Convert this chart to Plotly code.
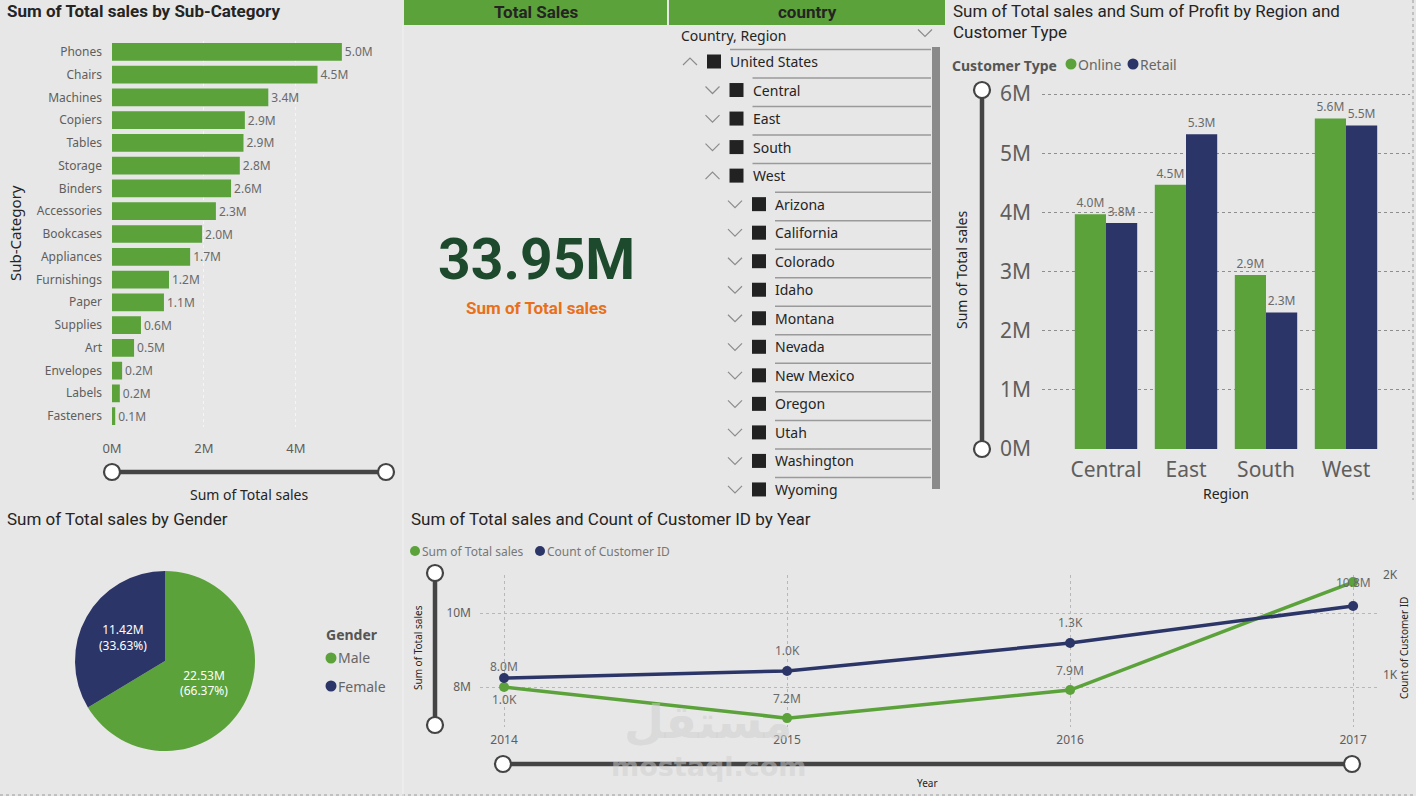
import plotly.graph_objects as go

W, H = 1416, 796
BG = "#E7E7E7"
GREEN = "#5BA23A"
NAVY = "#2C3567"
DARK = "#252423"
GREY = "#605E5C"
LBL = "#6A6A6A"
TFONT = "Roboto"
BFONT = "Noto Sans"

# ---------------- data ----------------
subcategories = ["Phones", "Chairs", "Machines", "Copiers", "Tables", "Storage", "Binders",
                 "Accessories", "Bookcases", "Appliances", "Furnishings", "Paper", "Supplies",
                 "Art", "Envelopes", "Labels", "Fasteners"]
subcat_sales_m = [5.00, 4.47, 3.40, 2.89, 2.86, 2.78, 2.59, 2.26, 1.96, 1.70, 1.24, 1.13,
                  0.63, 0.48, 0.22, 0.17, 0.07]
subcat_ticks_m = [0, 2, 4]

regions = ["Central", "East", "South", "West"]
online_sales_m = [3.97, 4.47, 2.94, 5.59]
retail_sales_m = [3.82, 5.32, 2.31, 5.47]
customer_types = ["Online", "Retail"]
region_ticks_m = [0, 1, 2, 3, 4, 5, 6]

genders = ["Male", "Female"]
gender_sales_m = [22.534, 11.417]

years = [2014, 2015, 2016, 2017]
year_sales_m = [8.00, 7.16, 7.92, 10.84]
year_customers = [970, 1040, 1320, 1690]
year_sales_ticks_m = [8, 10]
year_cust_ticks = [1000, 2000]

total_sales_label = "33.95M"

tree_labels = ["United States", "Central", "East", "South", "West", "Arizona", "California",
               "Colorado", "Idaho", "Montana", "Nevada", "New Mexico", "Oregon", "Utah",
               "Washington", "Wyoming"]
tree_levels = [0, 1, 1, 1, 1, 2, 2, 2, 2, 2, 2, 2, 2, 2, 2, 2]
tree_expanded = [True, False, False, False, True] + [False] * 11

# label placement offsets (px) for the line chart
sales_label_shift = [21, 20, 20, 0]
cust_label_shift = [-21, 21, 21, None]


def X(px):
    return px / W


def Y(py):
    return 1 - py / H


fig = go.Figure()
shapes = []
ann = []


def text(x, y, s, size=14, color=DARK, family=BFONT, anchor="left", angle=0, bold=False, yanchor="middle"):
    if bold:
        s = "<b>" + s + "</b>"
    ann.append(dict(x=X(x), y=Y(y), xref="paper", yref="paper", text=s, showarrow=False,
                    xanchor=anchor, yanchor=yanchor, textangle=angle, borderpad=0,
                    font=dict(size=size, color=color, family=family)))


def circle(cx, cy, r, fill, line="rgba(0,0,0,0)", lw=0):
    shapes.append(dict(type="circle", xref="paper", yref="paper",
                       x0=X(cx - r), x1=X(cx + r), y0=Y(cy + r), y1=Y(cy - r),
                       fillcolor=fill, line=dict(color=line, width=lw), layer="above"))


def line(x0, y0, x1, y1, color, w, dash="solid"):
    shapes.append(dict(type="line", xref="paper", yref="paper", x0=X(x0), x1=X(x1),
                       y0=Y(y0), y1=Y(y1), line=dict(color=color, width=w, dash=dash), layer="above"))


def rect(x0, y0, x1, y1, fill):
    shapes.append(dict(type="rect", xref="paper", yref="paper", x0=X(x0), x1=X(x1),
                       y0=Y(y1), y1=Y(y0), fillcolor=fill, line=dict(width=0), layer="below"))


def chevron(cx, cy, up, color="#8C8C8C"):
    s = -1 if up else 1
    p = "M {},{} L {},{} L {},{}".format(X(cx - 7), Y(cy - 3.5 * s), X(cx), Y(cy + 3.5 * s),
                                          X(cx + 7), Y(cy - 3.5 * s))
    shapes.append(dict(type="path", xref="paper", yref="paper", path=p,
                       line=dict(color=color, width=1.2), layer="above"))


def slider_h(x0, x1, y):
    line(x0, y, x1, y, "#444444", 4.5)
    circle(x0, y, 8, "white", "#444444", 2.2)
    circle(x1, y, 8, "white", "#444444", 2.2)


def slider_v(x, y0, y1):
    line(x, y0, x, y1, "#444444", 4.5)
    circle(x, y0, 8, "white", "#444444", 2.2)
    circle(x, y1, 8, "white", "#444444", 2.2)


# ---------------- bar chart: sub-category ----------------
fig.add_trace(go.Bar(
    x=subcat_sales_m, y=subcategories, orientation="h", xaxis="x", yaxis="y",
    marker=dict(color=GREEN, line=dict(width=0)), texttemplate="%{x:.1f}M", textposition="outside",
    textfont=dict(size=12, color=LBL, family=BFONT), cliponaxis=False, constraintext="none",
    showlegend=False))

# ---------------- region grouped bars ----------------
for name, vals, col in [(customer_types[0], online_sales_m, GREEN), (customer_types[1], retail_sales_m, NAVY)]:
    fig.add_trace(go.Bar(
        x=regions, y=vals, name=name, xaxis="x2", yaxis="y2", marker=dict(color=col, line=dict(width=0)),
        texttemplate="%{y:.1f}M", textposition="outside", cliponaxis=False, constraintext="none",
        textfont=dict(size=12, color=LBL, family=BFONT), showlegend=False))

# ---------------- pie ----------------
fig.add_trace(go.Pie(
    labels=genders, values=gender_sales_m, sort=False, direction="clockwise", rotation=0,
    domain=dict(x=[X(75), X(255)], y=[Y(751), Y(571)]),
    marker=dict(colors=[GREEN, NAVY], line=dict(color=BG, width=0)),
    texttemplate="%{value:.2f}M<br>(%{percent:.2%})", textposition="inside",
    insidetextorientation="horizontal", textfont=dict(size=12, color="white", family=BFONT),
    showlegend=False, hoverinfo="label+value"))

# ---------------- line chart ----------------
fig.add_trace(go.Scatter(
    x=years, y=year_sales_m, xaxis="x3", yaxis="y3", mode="lines+markers",
    line=dict(color=GREEN, width=3.5), marker=dict(size=10, color=GREEN), showlegend=False))
fig.add_trace(go.Scatter(
    x=years, y=year_customers, xaxis="x3", yaxis="y4", mode="lines+markers",
    line=dict(color=NAVY, width=3.5), marker=dict(size=10, color=NAVY), showlegend=False))

for yr, v, sh in zip(years, year_sales_m, sales_label_shift):
    ann.append(dict(x=yr, y=v, xref="x3", yref="y3", text="{:.1f}M".format(v), showarrow=False,
                    yshift=sh, font=dict(size=12, color=LBL, family=BFONT)))
for yr, v, sh in zip(years, year_customers, cust_label_shift):
    if sh is None:
        continue
    ann.append(dict(x=yr, y=v, xref="x3", yref="y4", text="{:.1f}K".format(v / 1000), showarrow=False,
                    yshift=sh, font=dict(size=12, color=LBL, family=BFONT)))

# ---------------- titles & texts ----------------
text(6, 11, "Sum of Total sales by Sub-Category", 17, DARK, TFONT, bold=True)
text(15, 233, "Sub-Category", 15, DARK, BFONT, anchor="center", angle=-90)
text(249, 494, "Sum of Total sales", 14, DARK, BFONT, anchor="center")
slider_h(112, 386, 472)

# KPI card
rect(404, 0, 667, 25, GREEN)
rect(669, 0, 945, 25, GREEN)
text(536, 12, "Total Sales", 17, DARK, TFONT, anchor="center", bold=True)
text(807, 12, "country", 17, DARK, TFONT, anchor="center", bold=True)
text(536, 259, total_sales_label, 57, "#1D4A2C", TFONT, anchor="center", bold=True)
text(536, 308, "Sum of Total sales", 17, "#E8701A", TFONT, anchor="center", bold=True)

# slicer tree
text(680, 35, "Country, Region", 14, DARK, BFONT)
chevron(925, 33, False)
rect(932, 47, 940, 489, "#8A8A8A")
row0, row_step = 61.5, 28.53
for i, (lab, lev, exp) in enumerate(zip(tree_labels, tree_levels, tree_expanded)):
    cy = row0 + i * row_step
    off = 22.5 * lev
    chevron(690 + off, cy, exp)
    shapes.append(dict(type="rect", xref="paper", yref="paper", x0=X(707 + off), x1=X(721 + off),
                       y0=Y(cy + 7), y1=Y(cy - 7), fillcolor="#222222", line=dict(width=0)))
    line(730 + off, cy - 12, 931, cy - 12, "#9A9A9A", 1.5)
    text(729 + off, cy, lab, 14, DARK, BFONT)

# region chart
text(952, 11, "Sum of Total sales and Sum of Profit by Region and", 17, DARK, TFONT)
text(952, 32, "Customer Type", 17, DARK, TFONT)
text(951, 65, "Customer Type", 14, "#555555", BFONT, bold=True)
circle(1071, 64, 5.5, GREEN)
text(1077, 64, "Online", 14, "#666666", BFONT)
circle(1133, 64, 5.5, NAVY)
text(1139, 64, "Retail", 14, "#666666", BFONT)
text(961, 270, "Sum of Total sales", 14, DARK, BFONT, anchor="center", angle=-90)
text(1226, 493, "Region", 14, DARK, BFONT, anchor="center")
slider_v(982, 90, 449)

# pie
text(6, 519, "Sum of Total sales by Gender", 17, DARK, TFONT)
text(325, 634, "Gender", 14, "#555555", BFONT, bold=True)
circle(331, 658, 5.5, GREEN)
text(337, 657, "Male", 14, "#666666", BFONT)
circle(331, 686, 5.5, NAVY)
text(337, 686, "Female", 14, "#666666", BFONT)

# line chart
text(410, 519, "Sum of Total sales and Count of Customer ID by Year", 17, DARK, TFONT)
circle(415, 551, 5, GREEN)
text(421, 551, "Sum of Total sales", 12, "#777777", BFONT)
circle(540, 551, 5, NAVY)
text(546, 551, "Count of Customer ID", 12, "#777777", BFONT)
text(418, 648, "Sum of Total sales", 10, DARK, BFONT, anchor="center", angle=-90)
text(1404, 648, "Count of Customer ID", 10, DARK, BFONT, anchor="center", angle=-90)
text(928, 783, "Year", 10, DARK, BFONT, anchor="center")
slider_v(435, 573, 725)
slider_h(503, 1352, 764)

# watermark
text(708, 722, "مستقل", 46, "rgba(205,205,205,0.5)", "DejaVu Sans", anchor="center", bold=True)
text(708, 766, "mostaql.com", 27, "rgba(205,205,205,0.5)", "DejaVu Sans", anchor="center", bold=True)

# borders
line(0, 795, W, 795, "#9A9A9A", 1, "dot")
line(1413, 0, 1413, 500, "#9A9A9A", 1, "dot")
line(403, 25, 403, 796, "#F2F2F2", 1)

axis_common = dict(showline=False, zeroline=False, ticks="", fixedrange=True, tickmode="array",
                   automargin=False, showgrid=True, griddash="dot", gridwidth=1)
nogrid = dict(showgrid=False, showline=False, zeroline=False, ticks="", fixedrange=True,
              automargin=False)

fig.update_layout(
    template="none",
    width=W, height=H, margin=dict(l=0, r=0, t=0, b=0, pad=0, autoexpand=False), autosize=False,
    paper_bgcolor=BG, plot_bgcolor=BG,
    barmode="group", bargap=0.22, bargroupgap=0,
    font=dict(family=BFONT, color=GREY),
    xaxis=dict(domain=[X(112), X(386)], range=[0, 5.96], anchor="y", tickvals=subcat_ticks_m,
               ticktext=["{}M".format(v) for v in subcat_ticks_m], gridcolor="#F5F5F5",
               tickfont=dict(size=13, color=GREY), ticklabelstandoff=12, **axis_common),
    yaxis=dict(domain=[Y(427.4), Y(40.6)], anchor="x", type="category",
               categoryorder="array", categoryarray=subcategories, autorange="reversed",
               tickfont=dict(size=12, color=GREY), ticklabelstandoff=9, **nogrid),
    xaxis2=dict(domain=[X(1042), X(1410)], range=[-0.8, 3.8], anchor="y2", type="category",
                tickfont=dict(size=21, color=GREY), ticklabelstandoff=6, **nogrid),
    yaxis2=dict(domain=[Y(449), Y(90)], range=[0, 6.07], anchor="x2", tickvals=region_ticks_m,
                ticktext=["{}M".format(v) for v in region_ticks_m], gridcolor="#8E8E8E",
                tickfont=dict(size=21, color=GREY), ticklabelstandoff=10, **axis_common),
    xaxis3=dict(domain=[X(480), X(1380)], range=[2013.915, 2017.095], anchor="y3",
                tickvals=years, ticktext=[str(y) for y in years], gridcolor="#B8B8B8",
                tickfont=dict(size=12, color=GREY), ticklabelstandoff=4, **axis_common),
    yaxis3=dict(domain=[Y(727), Y(575)], range=[6.92, 11.03], anchor="x3", tickvals=year_sales_ticks_m,
                ticktext=["{}M".format(v) for v in year_sales_ticks_m], gridcolor="#B8B8B8",
                tickfont=dict(size=12, color=GREY), ticklabelstandoff=8, **axis_common),
    yaxis4=dict(range=[480, 2000], overlaying="y3", anchor="x3", side="right",
                tickvals=year_cust_ticks, ticktext=["{}K".format(v // 1000) for v in year_cust_ticks],
                tickfont=dict(size=12, color=GREY), ticklabelstandoff=2, **nogrid),
    shapes=shapes, annotations=ann,
)

fig.write_html("out.html", config={"responsive": False, "displayModeBar": False},
               post_script="document.body.style.margin='0';document.body.style.padding='0';"
                           "document.documentElement.style.overflow='hidden';")
